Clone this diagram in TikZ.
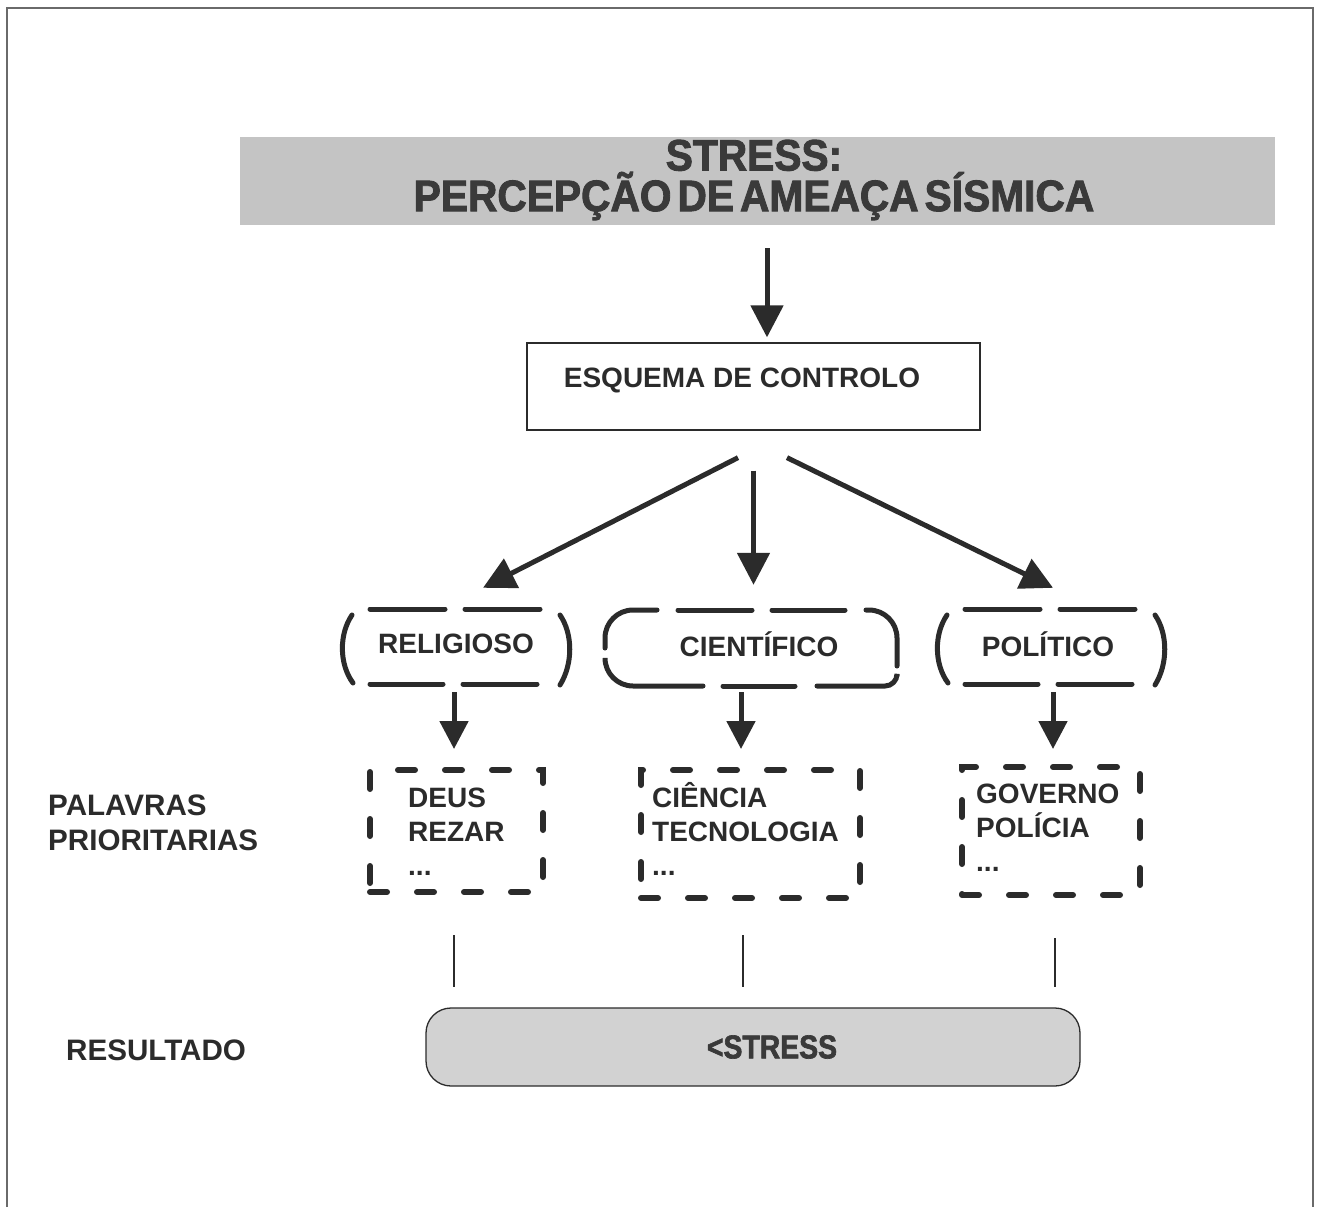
\documentclass[tikz,border=0pt]{standalone}
\usepackage{fontspec}
\setmainfont{Liberation Sans}
\newfontfamily\heavyfont[FakeStretch=0.925,BoldFeatures={FakeBold=2}]{Liberation Sans}
\usetikzlibrary{arrows.meta}
\definecolor{inkc}{HTML}{2B2B2B}
\definecolor{framec}{HTML}{6A6A6A}
\definecolor{bandc}{HTML}{C4C4C4}
\definecolor{resc}{HTML}{D2D2D2}
\definecolor{titletext}{HTML}{3A3A3A}
\newcommand\wsp{\hspace{6pt}}
\begin{document}
\begin{tikzpicture}[x=1pt,y=-1pt,
  lab/.style={font=\fontsize{28}{34}\selectfont\bfseries, text=inkc, inner sep=0pt},
  sidelab/.style={font=\fontsize{29.6}{35}\selectfont\bfseries, text=inkc, inner sep=0pt},
  arr/.style={draw=inkc, line width=5pt, -{Triangle[length=32pt,width=32pt]}},
  smallarr/.style={draw=inkc, line width=5pt, -{Triangle[length=28pt,width=28pt]}},
  dashseg/.style={draw=inkc, line width=5pt, line cap=round},
  wordbox/.style={draw=inkc, line width=6pt, line cap=round, dash pattern=on 17pt off 30pt, inner sep=0pt},
  thin/.style={draw=inkc, line width=1.3pt},
]
\useasboundingbox (0,0) rectangle (1322,1207);

% page frame
\draw[framec, line width=1.2pt] (7,1207) -- (7,8) -- (1313,8) -- (1313,1207);

% title band
\node[fill=bandc, minimum width=1035pt, minimum height=88pt, inner sep=0pt] (title) at (757.5,181) {};
\node[font=\heavyfont\bfseries\fontsize{44}{37}\selectfont, text=titletext, align=center, inner sep=0pt]
  (titletxt) at (754,180) {STRESS:\\PERCEPÇÃO\wsp DE\wsp AMEAÇA\wsp SÍSMICA};

% control schema box
\node[draw=inkc, line width=1.3pt, minimum width=453pt, minimum height=87pt, inner sep=0pt] (esq) at (753.5,386.5) {};
\node[lab] (esqtxt) at ([shift={(-11.5,-6.5)}]esq.center) {ESQUEMA DE CONTROLO};

% the three schemas
\node[lab, minimum width=225pt, minimum height=80pt] (rel) at (456,644) {RELIGIOSO};
\node[lab, minimum width=292pt, minimum height=76pt] (cien) at (759,644) {CIENTÍFICO};
\node[lab, minimum width=225pt, minimum height=80pt] (pol) at (1048,644) {POLÍTICO};

% bracket-style dashed outlines
\begin{scope}[shift={(rel.center)}]
  \draw[dashseg] (-86,-35) -- (-11,-35);
  \draw[dashseg] (9,-35) -- (84,-35);
  \draw[dashseg] (-86,40) -- (-13,40);
  \draw[dashseg] (7,40) -- (81,40);
  \draw[dashseg] (-104,-29) .. controls (-117,-10) and (-117,20) .. (-103,39);
  \draw[dashseg] (104,-29) .. controls (117,-10) and (117,20) .. (104,41);
\end{scope}
\begin{scope}[shift={([shift={(3,0)}]pol.center)}]
  \draw[dashseg] (-86,-35) -- (-11,-35);
  \draw[dashseg] (9,-35) -- (84,-35);
  \draw[dashseg] (-86,40) -- (-13,40);
  \draw[dashseg] (7,40) -- (81,40);
  \draw[dashseg] (-104,-29) .. controls (-117,-10) and (-117,20) .. (-103,39);
  \draw[dashseg] (104,-29) .. controls (117,-10) and (117,20) .. (104,41);
\end{scope}
\begin{scope}[shift={(cien.center)}]
  \draw[dashseg, rounded corners=28pt] (-154,4) |- (-102,-34);
  \draw[dashseg] (-81,-34) -- (-7,-34);
  \draw[dashseg] (13,-34) -- (86,-34);
  \draw[dashseg, rounded corners=28pt] (107,-34) -| (138,22);
  \draw[dashseg, rounded corners=12pt] (138,32) |- (58,42);
  \draw[dashseg] (-36,42) -- (36,42);
  \draw[dashseg, rounded corners=28pt] (-154,16) |- (-56,42);
\end{scope}

% word boxes
\node[wordbox, minimum width=173pt, minimum height=122pt] (deus) at (456.5,831) {};
\node[wordbox, minimum width=219pt, minimum height=128pt] (cienw) at (750.5,834) {};
\node[wordbox, minimum width=178pt, minimum height=128pt] (gov) at (1051,831) {};

\node[lab, align=left, anchor=base west] (deustxt) at (408,875) {DEUS\\REZAR\\...};
\node[lab, align=left, anchor=base west] (cientxt) at (652,875) {CIÊNCIA\\TECNOLOGIA\\...};
\node[lab, align=left, anchor=base west] (govtxt) at (976,871) {GOVERNO\\POLÍCIA\\...};

% side labels
\node[sidelab, align=left, anchor=west] (pal) at (48,823) {PALAVRAS\\PRIORITARIAS};
\node[sidelab, anchor=west] (resl) at (66,1050) {RESULTADO};

% result box
\node[draw=inkc, line width=1.3pt, fill=resc, rounded corners=25pt, minimum width=654pt, minimum height=78pt, inner sep=0pt] (res) at (753,1047) {};
\node[font=\heavyfont\bfseries\fontsize{33}{36}\selectfont, text=titletext, inner sep=0pt, xscale=0.93] (restxt) at ([shift={(19,0)}]res.center) {<STRESS};
\coordinate (resTop) at ([shift={(0,-20)}]res.north);

% connectors
\draw[arr] ([shift={(9.5,23)}]title.south) -- ([shift={(13.5,-5)}]esq.north);
\draw[arr] ([shift={(-15.5,27)}]esq.south) -- ([shift={(27,-16)}]rel.north);
\draw[arr] ([shift={(0,40)}]esq.south) -- ([shift={(-5.5,-21)}]cien.north);
\draw[arr] ([shift={(33.5,27)}]esq.south) -- ([shift={(5,-16)}]pol.north);

\draw[smallarr] ([shift={(-2,8)}]rel.south) -- ([shift={(-2.5,-18)}]deus.north);
\draw[smallarr] ([shift={(-18,10)}]cien.south) -- ([shift={(-9.5,-18)}]cienw.north);
\draw[smallarr] ([shift={(5,8)}]pol.south) -- ([shift={(2,-15)}]gov.north);

\draw[thin] ([shift={(-2.5,40)}]deus.south) coordinate (d1) -- (d1 |- resTop);
\draw[thin] ([shift={(-7.5,34)}]cienw.south) coordinate (d2) -- (d2 |- resTop);
\draw[thin] ([shift={(4,40)}]gov.south) coordinate (d3) -- (d3 |- resTop);
\end{tikzpicture}
\end{document}
